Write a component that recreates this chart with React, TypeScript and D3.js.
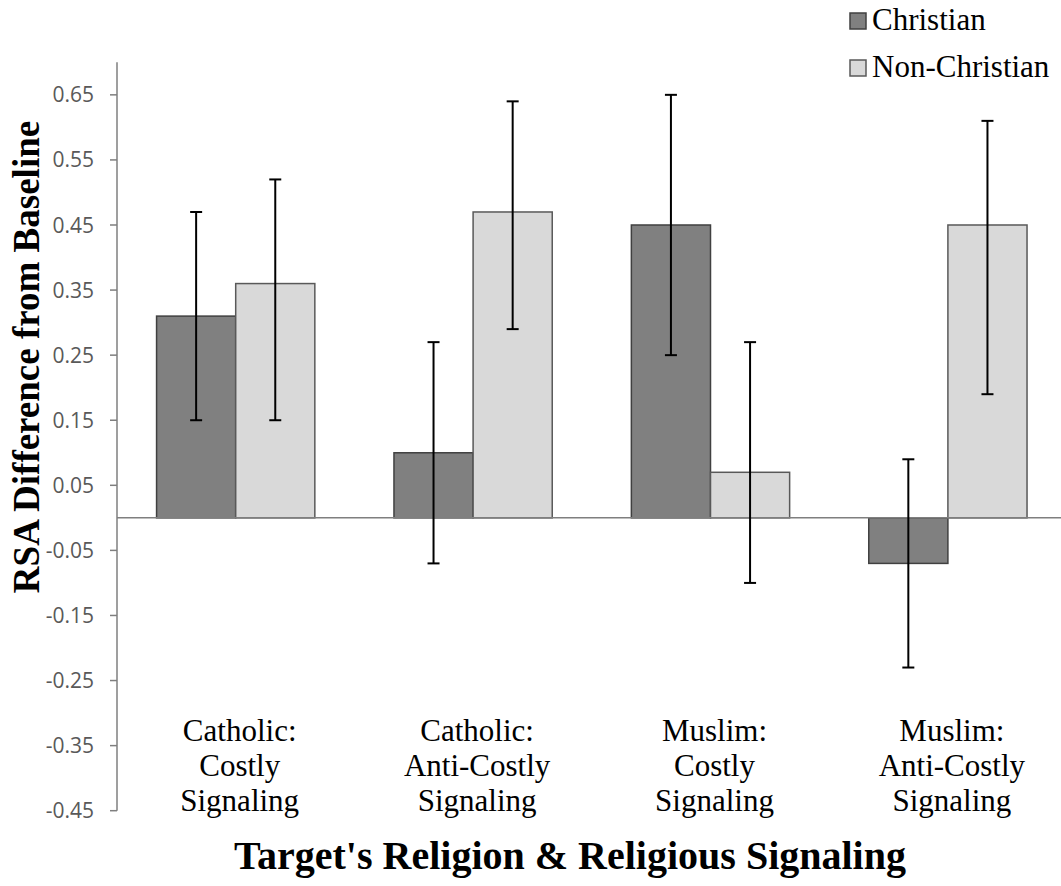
import React from "react";
import * as d3 from "d3";

const categories: string[][] = [
  ["Catholic:", "Costly", "Signaling"],
  ["Catholic:", "Anti-Costly", "Signaling"],
  ["Muslim:", "Costly", "Signaling"],
  ["Muslim:", "Anti-Costly", "Signaling"],
];
const seriesNames = ["Christian", "Non-Christian"];
const christianValues = [0.31, 0.1, 0.45, -0.07];
const christianLow = [0.15, -0.07, 0.25, -0.23];
const christianHigh = [0.47, 0.27, 0.65, 0.09];
const nonChristianValues = [0.36, 0.47, 0.07, 0.45];
const nonChristianLow = [0.15, 0.29, -0.1, 0.19];
const nonChristianHigh = [0.52, 0.64, 0.27, 0.61];
const yTicks = [-0.45, -0.35, -0.25, -0.15, -0.05, 0.05, 0.15, 0.25, 0.35, 0.45, 0.55, 0.65];
const yTitle = "RSA Difference from Baseline";
const xTitle = "Target's Religion & Religious Signaling";

const W = 1061;
const H = 886;
const FILL = ["#808080", "#d9d9d9"];
const STROKE = ["#404040", "#595959"];
const SERIF = "'Liberation Serif', 'Times New Roman', serif";

export default function App() {
  const y = d3.scaleLinear().domain([-0.45, 0.7]).range([810.7, 62.3]);
  const x0 = d3
    .scaleBand<number>()
    .domain(categories.map((_, i) => i))
    .range([117, 1066.6])
    .paddingInner(1 / 3)
    .paddingOuter(1 / 6);
  const x1 = d3
    .scaleBand<number>()
    .domain([0, 1])
    .range([0, x0.bandwidth()])
    .padding(0);
  const series = [
    { values: christianValues, low: christianLow, high: christianHigh },
    { values: nonChristianValues, low: nonChristianLow, high: nonChristianHigh },
  ];
  const axisX = 117;
  const zeroY = y(0);
  const capW = 12;

  return (
    <>
      <style>{`body{margin:0}`}</style>
      <svg width={W} height={H} style={{ display: "block", background: "#fff" }}>
        {/* y axis */}
        <line x1={axisX} x2={axisX} y1={y(0.7)} y2={y(-0.45)} stroke="#7f7f7f" strokeWidth={1.5} />
        {yTicks.map((t) => (
          <g key={t}>
            <line x1={axisX - 7} x2={axisX} y1={y(t)} y2={y(t)} stroke="#7f7f7f" strokeWidth={1.5} />
            <text
              x={94}
              y={y(t)}
              dy="0.36em"
              textAnchor="end"
              fontFamily="'Open Sans', sans-serif"
              fontSize={21}
              fill="#595959"
            >
              {t.toFixed(2)}
            </text>
          </g>
        ))}
        {/* bars */}
        {series.map((s, si) =>
          s.values.map((v, ci) => {
            const bx = (x0(ci) as number) + (x1(si) as number);
            const top = Math.min(y(v), zeroY);
            const h = Math.abs(y(v) - zeroY);
            return (
              <rect
                key={`b${si}-${ci}`}
                x={bx}
                y={top}
                width={x1.bandwidth()}
                height={h}
                fill={FILL[si]}
                stroke={STROKE[si]}
                strokeWidth={1.5}
              />
            );
          })
        )}
        {/* zero line */}
        <line x1={axisX} x2={W} y1={zeroY} y2={zeroY} stroke="#7f7f7f" strokeWidth={1.5} />
        {/* error bars */}
        {series.map((s, si) =>
          s.values.map((_, ci) => {
            const cx = (x0(ci) as number) + (x1(si) as number) + x1.bandwidth() / 2;
            return (
              <g key={`e${si}-${ci}`} stroke="#000" strokeWidth={2}>
                <line x1={cx} x2={cx} y1={y(s.low[ci])} y2={y(s.high[ci])} />
                <line x1={cx - capW / 2} x2={cx + capW / 2} y1={y(s.low[ci])} y2={y(s.low[ci])} />
                <line x1={cx - capW / 2} x2={cx + capW / 2} y1={y(s.high[ci])} y2={y(s.high[ci])} />
              </g>
            );
          })
        )}
        {/* category labels */}
        {categories.map((lines, ci) => {
          const cx = (x0(ci) as number) + x0.bandwidth() / 2 + 4;
          return (
            <text key={`c${ci}`} textAnchor="middle" fontFamily={SERIF} fontSize={31} fill="#000">
              {lines.map((l, li) => (
                <tspan key={li} x={cx} y={741 + li * 35}>
                  {l}
                </tspan>
              ))}
            </text>
          );
        })}
        {/* y title */}
        <text
          transform={`translate(39, ${357}) rotate(-90)`}
          textAnchor="middle"
          fontFamily={SERIF}
          fontWeight="bold"
          fontSize={37}
          fill="#000"
        >
          {yTitle}
        </text>
        {/* x title */}
        <text x={570} y={869} textAnchor="middle" fontFamily={SERIF} fontWeight="bold" fontSize={40} fill="#000">
          {xTitle}
        </text>
        {/* legend */}
        {seriesNames.map((n, si) => (
          <g key={n}>
            <rect x={850} y={13 + si * 47} width={16} height={16} fill={FILL[si]} stroke={STROKE[si]} strokeWidth={1.5} />
            <text x={872} y={30 + si * 47} fontFamily={SERIF} fontSize={31} fill="#000">
              {n}
            </text>
          </g>
        ))}
      </svg>
    </>
  );
}
